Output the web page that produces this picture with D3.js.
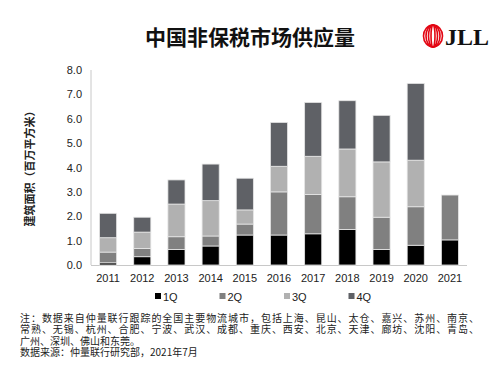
<!DOCTYPE html>
<html><head><meta charset="utf-8">
<script src="https://cdn.jsdelivr.net/npm/d3@7"></script>
<style>body{margin:0;background:#fff}</style>
</head><body>
<svg id="c" width="500" height="375"></svg>
<script>
const years = ["2011","2012","2013","2014","2015","2016","2017","2018","2019","2020","2021"];
const q1 = [0.09,0.34,0.64,0.78,1.23,1.23,1.28,1.46,0.64,0.81,1.03];
const q2 = [0.44,0.34,0.52,0.41,0.45,1.77,1.61,1.34,1.32,1.58,1.84];
const q3 = [0.59,0.67,1.34,1.45,0.58,1.05,1.57,1.96,2.27,1.91,0];
const q4 = [1.00,0.61,0.99,1.50,1.30,1.80,2.21,1.98,1.91,3.15,0];
const seriesNames = ["1Q","2Q","3Q","4Q"];
const colors = ["#000000","#808080","#b1b1b1","#5f6166"];
const yTicks = [0,1,2,3,4,5,6,7,8];
const noteLines = [
 "注：数据来自仲量联行跟踪的全国主要物流城市，包括上海、昆山、太仓、嘉兴、苏州、南京、",
 "常熟、无锡、杭州、合肥、宁波、武汉、成都、重庆、西安、北京、天津、廊坊、沈阳、青岛、",
 "广州、深圳、佛山和东莞。",
 "数据来源：仲量联行研究部，2021年7月"
];
const title = "中国非保税市场供应量";
const yLabel = "建筑面积（百万平方米）";

const svg = d3.select("#c");
const font = "'Liberation Sans','Noto Sans CJK SC',Arial,sans-serif";
const cjk = "'Noto Sans CJK SC','Liberation Sans',sans-serif";

const table = years.map((y,i)=>({year:y,"1Q":q1[i],"2Q":q2[i],"3Q":q3[i],"4Q":q4[i]}));
const stack = d3.stack().keys(seriesNames)(table);

const x = d3.scaleBand().domain(years).range([91,467]).paddingInner(0.5).paddingOuter(0.25);
const y = d3.scaleLinear().domain([0,8]).range([265,70]);

// title
svg.append("text").attr("x",250).attr("y",45).attr("text-anchor","middle")
  .attr("font-family",cjk).attr("font-size",21).attr("font-weight","bold").attr("fill","#111").text(title);

// logo
const lg = svg.append("g");
const lcx = 433, lcy = 36;
[9.5,7,4.5,2].forEach(rx=>{
  lg.append("ellipse").attr("cx",lcx).attr("cy",lcy).attr("rx",rx).attr("ry",11)
    .attr("fill","none").attr("stroke","#e30613").attr("stroke-width",1.6);
});
lg.append("text").attr("x",445).attr("y",45).attr("font-family","'Liberation Serif','DejaVu Serif',serif")
  .attr("font-weight","bold").attr("font-size",24).attr("fill","#111").text("JLL");

// axes
svg.append("line").attr("x1",91).attr("x2",91).attr("y1",70).attr("y2",265).attr("stroke","#c8c8c8");
svg.append("line").attr("x1",91).attr("x2",467).attr("y1",265.5).attr("y2",265.5).attr("stroke","#c8c8c8");

svg.append("g").selectAll("text").data(yTicks).join("text")
  .attr("x",82).attr("y",d=>y(d)+4).attr("text-anchor","end")
  .attr("font-family",font).attr("font-size",11).attr("fill","#222").text(d=>d.toFixed(1));

svg.append("g").selectAll("text").data(years).join("text")
  .attr("x",d=>x(d)+x.bandwidth()/2).attr("y",282).attr("text-anchor","middle")
  .attr("font-family",font).attr("font-size",11).attr("fill","#222").text(d=>d);

svg.append("text").attr("transform","translate(34,166) rotate(-90)").attr("text-anchor","middle")
  .attr("font-family",cjk).attr("font-size",11).attr("font-weight","bold").attr("fill","#222").text(yLabel);

// bars
stack.forEach((s,si)=>{
  svg.append("g").selectAll("rect").data(s.filter(d=>d[1]-d[0]>0)).join("rect")
    .attr("x",d=>x(d.data.year)).attr("width",x.bandwidth())
    .attr("y",d=>y(d[1])).attr("height",d=>y(d[0])-y(d[1]))
    .attr("fill",colors[si]).attr("stroke","#e6e6e6").attr("stroke-width",0.8);
});

// legend
const leg = svg.append("g");
seriesNames.forEach((n,i)=>{
  const lx = 155 + i*64.5;
  leg.append("rect").attr("x",lx).attr("y",293).attr("width",6).attr("height",6).attr("fill",colors[i]);
  leg.append("text").attr("x",lx+8).attr("y",300.5).attr("font-family",font).attr("font-size",11)
    .attr("fill","#222").text(n);
});

// notes
svg.append("g").selectAll("text").data(noteLines).join("text")
  .attr("x",20).attr("y",(d,i)=>322+i*11.3)
  .attr("font-family",cjk).attr("font-size",10).attr("fill","#222")
  .each(function(d,i){ if(i<2) d3.select(this).attr("textLength",459).attr("lengthAdjust","spacing"); })
  .text(d=>d);
</script>
</body></html>
